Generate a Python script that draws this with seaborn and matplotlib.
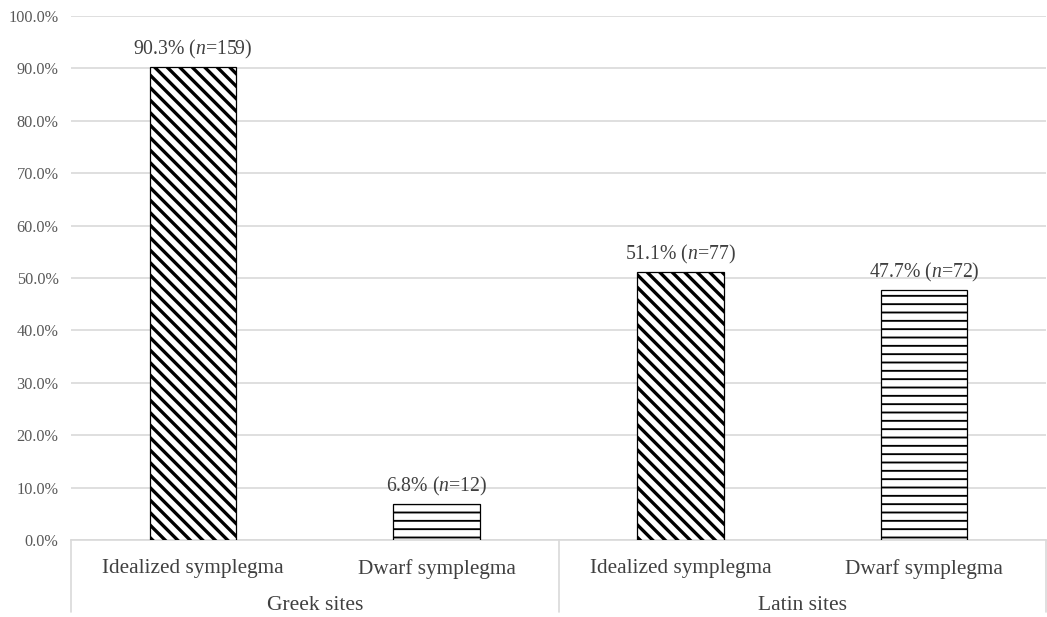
import matplotlib
matplotlib.use("Agg")
import matplotlib.pyplot as plt
import matplotlib.transforms as mtransforms
import seaborn as sns
import pandas as pd

groups = ["Greek sites", "Greek sites", "Latin sites", "Latin sites"]
types = ["Idealized symplegma", "Dwarf symplegma", "Idealized symplegma", "Dwarf symplegma"]
percent = [90.3, 6.8, 51.1, 47.7]
counts = [159, 12, 77, 72]
yticks = [0, 10, 20, 30, 40, 50, 60, 70, 80, 90, 100]

sns.set_theme(style="white")
plt.rcParams["font.family"] = ["Liberation Serif", "DejaVu Serif"]
plt.rcParams["mathtext.fontset"] = "custom"
plt.rcParams["mathtext.it"] = "Liberation Serif:italic"
plt.rcParams["mathtext.rm"] = "Liberation Serif"
plt.rcParams["hatch.color"] = "black"

DPI = 150
fig = plt.figure(figsize=(1047 / DPI, 617 / DPI), dpi=DPI)
ax = fig.add_axes([71 / 1047, 1 - 540 / 617, 1 - 71 / 1047 - 1 / 1047, (540 - 16) / 617])

df = pd.DataFrame({"key": [f"{g}|{t}" for g, t in zip(groups, types)],
                   "percent": percent, "type": types})
sns.barplot(data=df, x="key", y="percent", order=list(df["key"]), ax=ax,
            color="white", width=0.355, edgecolor="black", linewidth=0.6,
            saturation=1)

gray = "#595959"
dark = "#404040"
grid = "#d9d9d9"
for i, p in enumerate(ax.patches):
    if types[i].startswith("Idealized"):
        p.set_hatch("\\\\\\\\")
        lw = 1.6
    else:
        p.set_hatch("---")
        lw = 0.9
    if hasattr(p, "set_hatch_linewidth"):
        p.set_hatch_linewidth(lw)
    p.set_zorder(3)

ax.set_ylim(0, 100)
ax.set_xlim(-0.5, 3.5)
ax.set_yticks(yticks)
ax.set_yticklabels([f"{v:.1f}%" for v in yticks], fontsize=7.8, color=gray)
ax.yaxis.grid(True, color=grid, linewidth=0.8, zorder=0)
ax.set_axisbelow(True)
for s in ["top", "right", "left"]:
    ax.spines[s].set_visible(False)
ax.spines["bottom"].set_color(grid)
ax.spines["bottom"].set_linewidth(0.8)
ax.tick_params(axis="y", length=0, pad=6)
ax.tick_params(axis="x", length=0, pad=9)
ax.set_xticks(range(4))
ax.set_xticklabels(types, fontsize=10.2, color=dark)
ax.set_xlabel("")
ax.set_ylabel("")

# annotations
for i, (v, n) in enumerate(zip(percent, counts)):
    ax.annotate(f"{v:.1f}% ($\\mathit{{n}}$={n})", xy=(i, v), xytext=(0, 3),
                textcoords="offset points", ha="center", va="bottom",
                fontsize=9.5, color=dark)

# group separators and labels
trans = mtransforms.blended_transform_factory(ax.transData, ax.transAxes)
ybot = -(612 - 540) / 524
for xs in [-0.5, 1.5, 3.5]:
    ax.plot([xs, xs], [0, ybot], transform=trans, color=grid, linewidth=0.8,
            clip_on=False)
group_names = []
for g in groups:
    if g not in group_names:
        group_names.append(g)
for j, g in enumerate(group_names):
    ax.text(2 * j + 0.5, -(605 - 540) / 524, g, transform=trans, ha="center",
            va="center", fontsize=10.3, color=dark)

fig.savefig("out.png", dpi=DPI, facecolor="white")
